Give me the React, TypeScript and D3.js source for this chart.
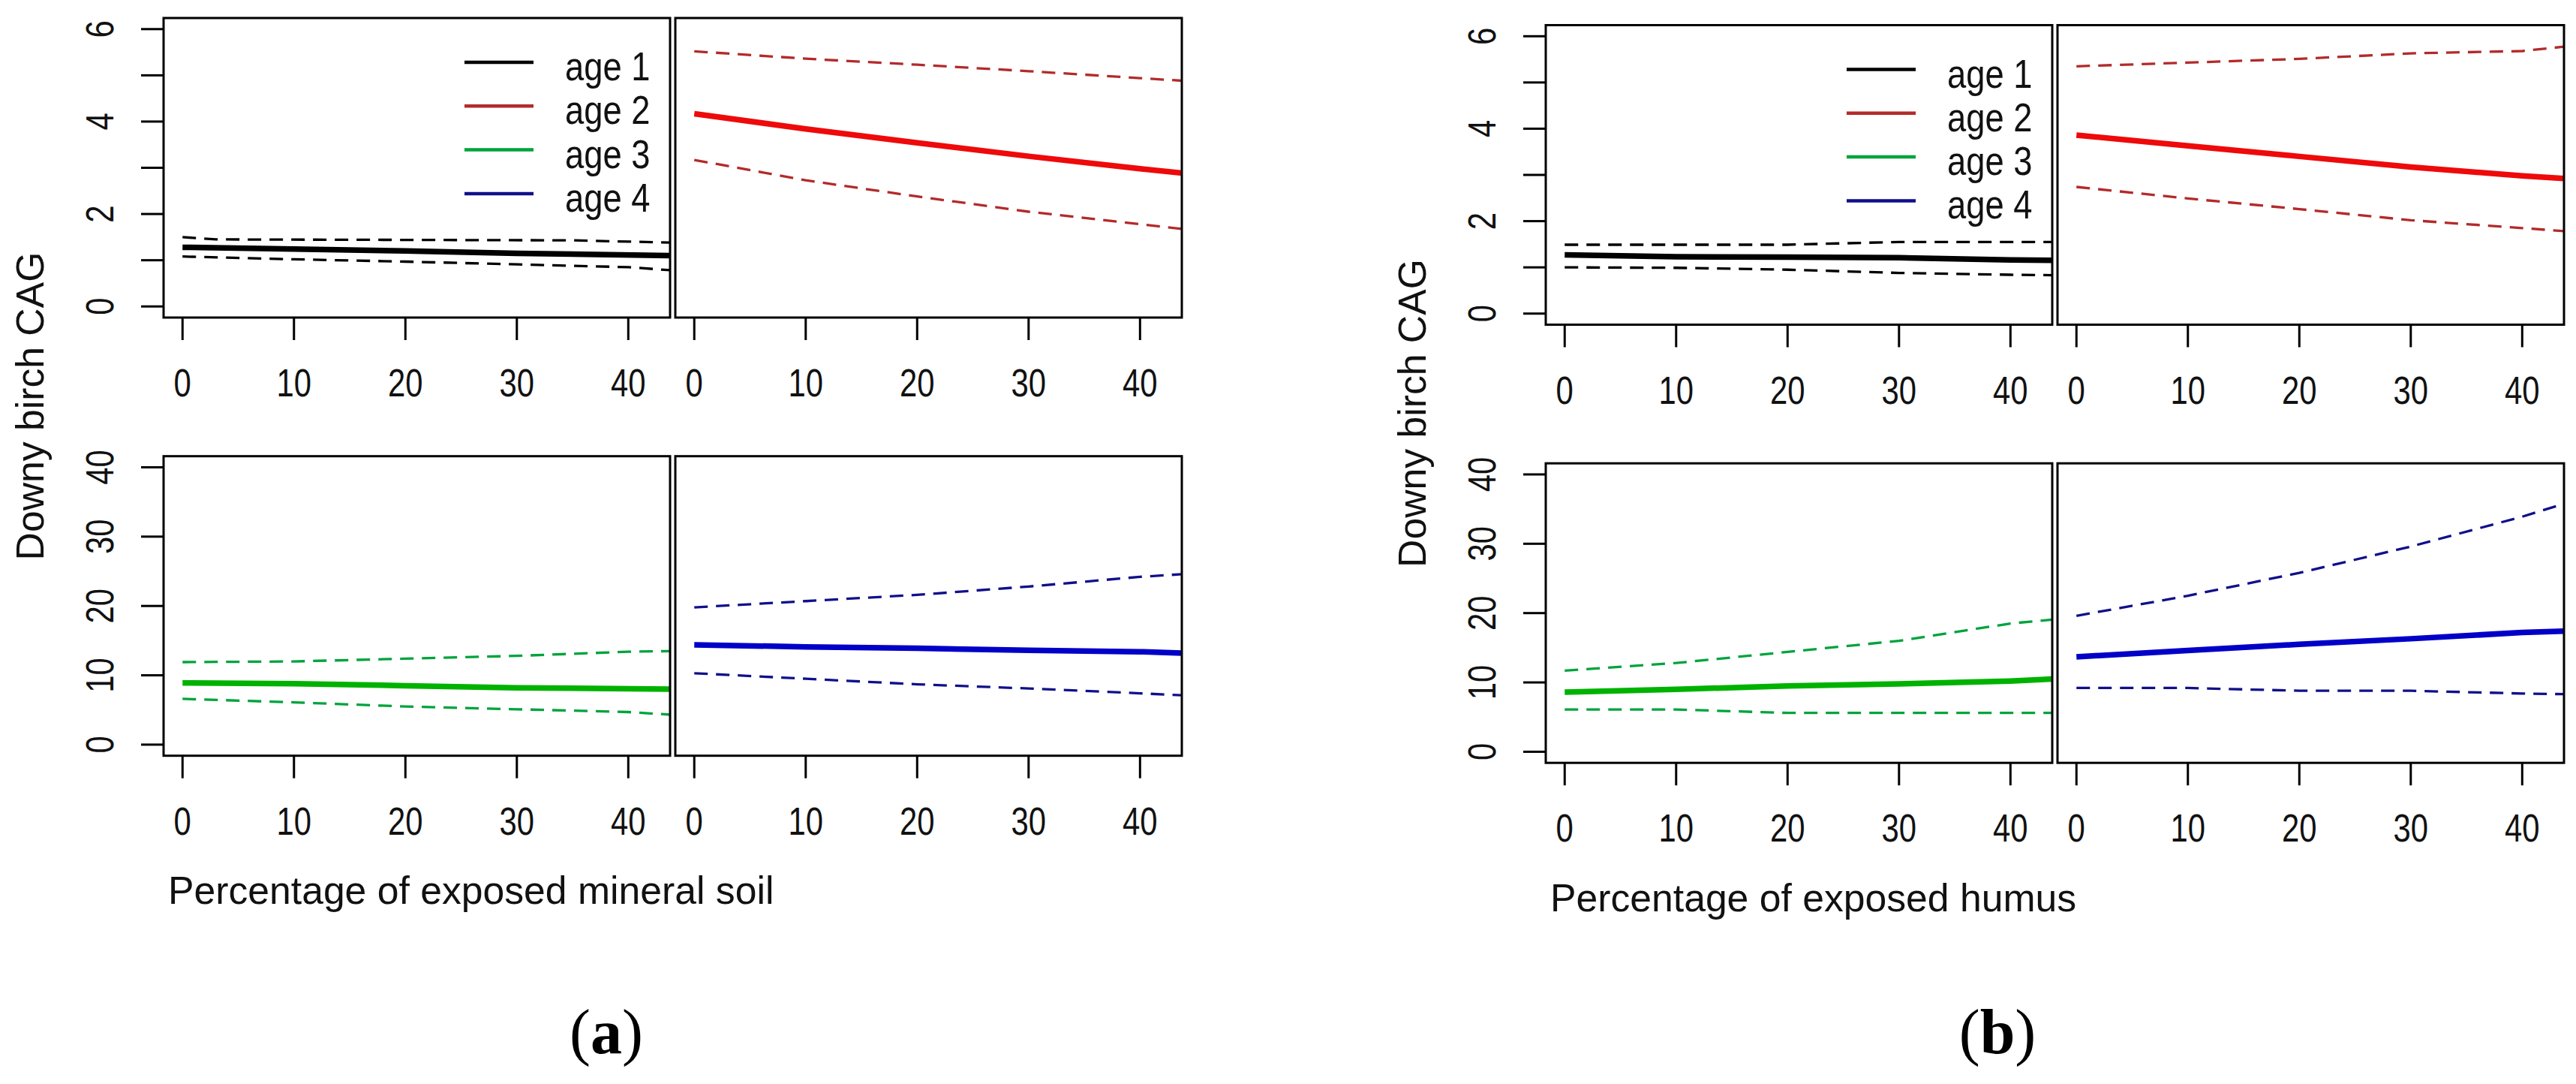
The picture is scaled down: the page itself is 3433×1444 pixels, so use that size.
import * as d3 from "d3"

type Pt = [number, number]

const W = 3433, H = 1444
// one panel, in px
const PW = 675, PH = 399, COL_GAP = 7, ROW_STEP = 583.7

const AGES = ["age 1", "age 2", "age 3", "age 4"]
const FIT_COLORS = ["#000000", "#ee0a0a", "#00b200", "#0000c8"]
const CI_COLORS = ["#000000", "#b32a2a", "#00a33c", "#10108a"]
const KEY_COLORS = ["#000000", "#b32a2a", "#00a33c", "#10108a"]

const X_DOMAIN: Pt = [-1.7, 43.75]
const X_TICKS = [0, 10, 20, 30, 40]
const Y_DOMAIN_TOP: Pt = [-0.24, 6.24]
const Y_TICKS_TOP = [0, 1, 2, 3, 4, 5, 6]
const Y_LABELS_TOP = [0, 2, 4, 6]
const Y_DOMAIN_BOTTOM: Pt = [-1.6, 41.6]
const Y_TICKS_BOTTOM = [0, 10, 20, 30, 40]

const Y_TITLE = "Downy birch CAG"

// (a) exposed mineral soil
const soilAge1Fit: Pt[] = [[0, 1.28], [10, 1.24], [20, 1.2], [30, 1.15], [44, 1.1]]
const soilAge1Upper: Pt[] = [[0, 1.5], [3, 1.45], [20, 1.44], [35, 1.43], [44, 1.38]]
const soilAge1Lower: Pt[] = [[0, 1.08], [10, 1.02], [20, 0.97], [30, 0.91], [40, 0.85], [44, 0.78]]
const soilAge2Fit: Pt[] = [[0, 4.17], [10, 3.84], [20, 3.54], [30, 3.25], [40, 2.98], [44, 2.88]]
const soilAge2Upper: Pt[] = [[0, 5.52], [10, 5.36], [20, 5.23], [30, 5.09], [40, 4.94], [44, 4.88]]
const soilAge2Lower: Pt[] = [[0, 3.17], [10, 2.73], [20, 2.38], [30, 2.05], [40, 1.78], [44, 1.67]]
const soilAge3Fit: Pt[] = [[0, 8.9], [10, 8.8], [20, 8.5], [30, 8.2], [44, 8.0]]
const soilAge3Upper: Pt[] = [[0, 11.9], [10, 12.0], [20, 12.4], [30, 12.8], [40, 13.4], [44, 13.5]]
const soilAge3Lower: Pt[] = [[0, 6.6], [10, 6.1], [20, 5.5], [30, 5.1], [40, 4.7], [44, 4.3]]
const soilAge4Fit: Pt[] = [[0, 14.4], [10, 14.1], [20, 13.9], [30, 13.6], [40, 13.4], [44, 13.2]]
const soilAge4Upper: Pt[] = [[0, 19.8], [10, 20.7], [20, 21.6], [30, 22.8], [40, 24.2], [44, 24.6]]
const soilAge4Lower: Pt[] = [[0, 10.3], [10, 9.5], [20, 8.7], [30, 8.1], [40, 7.4], [44, 7.1]]

// (b) exposed humus
const humusAge1Fit: Pt[] = [[0, 1.27], [10, 1.23], [20, 1.22], [30, 1.21], [40, 1.16], [44, 1.15]]
const humusAge1Upper: Pt[] = [[0, 1.49], [20, 1.49], [30, 1.55], [44, 1.55]]
const humusAge1Lower: Pt[] = [[0, 1.0], [10, 0.99], [20, 0.95], [30, 0.88], [40, 0.84], [44, 0.83]]
const humusAge2Fit: Pt[] = [[0, 3.86], [10, 3.63], [20, 3.4], [30, 3.17], [40, 2.98], [44, 2.92]]
const humusAge2Upper: Pt[] = [[0, 5.35], [10, 5.43], [20, 5.51], [30, 5.63], [40, 5.68], [44, 5.78]]
const humusAge2Lower: Pt[] = [[0, 2.74], [10, 2.49], [20, 2.26], [30, 2.02], [40, 1.85], [44, 1.78]]
const humusAge3Fit: Pt[] = [[0, 8.6], [10, 9.0], [20, 9.5], [30, 9.8], [40, 10.2], [44, 10.5]]
const humusAge3Upper: Pt[] = [[0, 11.7], [10, 12.8], [20, 14.4], [30, 16.0], [40, 18.5], [44, 19.1]]
const humusAge3Lower: Pt[] = [[0, 6.1], [10, 6.1], [20, 5.6], [30, 5.6], [44, 5.6]]
const humusAge4Fit: Pt[] = [[0, 13.7], [10, 14.6], [20, 15.5], [30, 16.3], [40, 17.2], [44, 17.4]]
const humusAge4Upper: Pt[] = [[0, 19.6], [10, 22.5], [20, 25.8], [30, 29.6], [40, 33.9], [44, 35.9]]
const humusAge4Lower: Pt[] = [[0, 9.2], [10, 9.2], [20, 8.8], [30, 8.8], [40, 8.4], [44, 8.3]]

const SANS = "'Liberation Sans', Arial, sans-serif"
const SERIF = "'Liberation Serif', 'Times New Roman', serif"
const NARROW = 0.82 // tick labels are set in a narrow face

interface Series { fit: Pt[]; upper: Pt[]; lower: Pt[] }

interface Figure {
  id: string
  left: number
  top: number
  xTitle: string
  caption: string
  captionX: number
  series: Series[]
}

const FIGURES: Figure[] = [
  {
    id: "a", left: 218, top: 24, xTitle: "Percentage of exposed mineral soil", caption: "a", captionX: 808,
    series: [
      { fit: soilAge1Fit, upper: soilAge1Upper, lower: soilAge1Lower },
      { fit: soilAge2Fit, upper: soilAge2Upper, lower: soilAge2Lower },
      { fit: soilAge3Fit, upper: soilAge3Upper, lower: soilAge3Lower },
      { fit: soilAge4Fit, upper: soilAge4Upper, lower: soilAge4Lower },
    ],
  },
  {
    id: "b", left: 2060, top: 33.5, xTitle: "Percentage of exposed humus", caption: "b", captionX: 2662,
    series: [
      { fit: humusAge1Fit, upper: humusAge1Upper, lower: humusAge1Lower },
      { fit: humusAge2Fit, upper: humusAge2Upper, lower: humusAge2Lower },
      { fit: humusAge3Fit, upper: humusAge3Upper, lower: humusAge3Lower },
      { fit: humusAge4Fit, upper: humusAge4Upper, lower: humusAge4Lower },
    ],
  },
]

const xScale = d3.scaleLinear().domain(X_DOMAIN).range([0, PW])
const yTop = d3.scaleLinear().domain(Y_DOMAIN_TOP).range([PH, 0])
const yBottom = d3.scaleLinear().domain(Y_DOMAIN_BOTTOM).range([PH, 0])

function Panel({ clipId, x0, y0, y, s, i, yTicks, yLabels, leftAxis, legend }: {
  clipId: string, x0: number, y0: number, y: d3.ScaleLinear<number, number>, s: Series, i: number,
  yTicks: number[], yLabels: number[], leftAxis: boolean, legend: boolean
}) {
  const line = d3.line<Pt>().x(d => xScale(d[0])).y(d => y(d[1]))
  return (
    <g transform={`translate(${x0},${y0})`}>
      <clipPath id={clipId}><rect width={PW} height={PH} /></clipPath>
      <g clipPath={`url(#${clipId})`} fill="none">
        <path d={line(s.upper) ?? ""} stroke={CI_COLORS[i]} strokeWidth={3.3} strokeDasharray="18 11" />
        <path d={line(s.lower) ?? ""} stroke={CI_COLORS[i]} strokeWidth={3.3} strokeDasharray="18 11" />
        <path d={line(s.fit) ?? ""} stroke={FIT_COLORS[i]} strokeWidth={7.5} />
      </g>
      <rect width={PW} height={PH} fill="none" stroke="#000" strokeWidth={3} />

      {/* x axis below each panel */}
      {X_TICKS.map(t => (
        <g key={t} transform={`translate(${xScale(t)},0)`}>
          <line y1={PH} y2={PH + 30} stroke="#000" strokeWidth={3} />
          <text transform={`translate(0,${PH + 105}) scale(${NARROW},1)`} textAnchor="middle"
            fontFamily={SANS} fontSize={51} fill="#111">{t}</text>
        </g>
      ))}

      {leftAxis && yTicks.map(t => (
        <line key={t} x1={-30} x2={0} y1={y(t)} y2={y(t)} stroke="#000" strokeWidth={3} />
      ))}
      {leftAxis && yLabels.map(t => (
        <text key={t} transform={`translate(-67,${y(t)}) rotate(-90) scale(${NARROW},1)`} textAnchor="middle"
          fontFamily={SANS} fontSize={51} fill="#111">{t}</text>
      ))}

      {legend && AGES.map((a, k) => {
        const ly = 59 + k * 58.3
        return (
          <g key={a}>
            <line x1={401} x2={493} y1={ly} y2={ly} stroke={KEY_COLORS[k]} strokeWidth={4.5} />
            <text transform={`translate(535,${ly + 24}) scale(0.84,1)`} fontFamily={SANS} fontSize={54} fill="#111">{a}</text>
          </g>
        )
      })}
    </g>
  )
}

export default function App() {
  return (
    <svg width={W} height={H} style={{ position: "absolute", left: 0, top: 0, background: "#fff" }}>
      <rect width={W} height={H} fill="#fff" />
      {FIGURES.map(f => (
        <g key={f.id} transform={`translate(${f.left},${f.top})`}>
          {f.series.map((s, i) => {
            const row = i < 2 ? 0 : 1
            const col = i % 2
            return (
              <Panel key={i} clipId={`clip-${f.id}-${i}`} x0={col * (PW + COL_GAP)} y0={row * ROW_STEP}
                y={row === 0 ? yTop : yBottom} s={s} i={i}
                yTicks={row === 0 ? Y_TICKS_TOP : Y_TICKS_BOTTOM}
                yLabels={row === 0 ? Y_LABELS_TOP : Y_TICKS_BOTTOM}
                leftAxis={col === 0} legend={i === 0} />
            )
          })}
          <text transform={`translate(-160,517) rotate(-90)`} textAnchor="middle"
            fontFamily={SANS} fontSize={51.7} fill="#111">{Y_TITLE}</text>
          <text x={6} y={1180} fontFamily={SANS} fontSize={51.7} fill="#111">{f.xTitle}</text>
        </g>
      ))}
      {FIGURES.map(f => (
        <text key={f.id} x={f.captionX} y={1403} textAnchor="middle" fontFamily={SERIF} fontSize={84} fill="#000">
          (<tspan fontWeight="bold">{f.caption}</tspan>)
        </text>
      ))}
    </svg>
  )
}
